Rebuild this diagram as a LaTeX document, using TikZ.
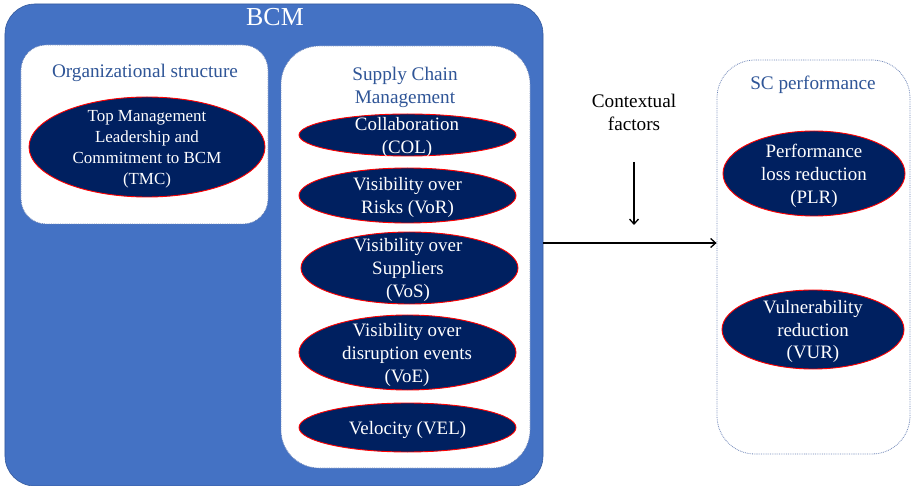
\documentclass[tikz,border=0pt]{standalone}
\usepackage{fontspec}
\setmainfont{Liberation Serif}
\usetikzlibrary{shapes.geometric,arrows.meta}
\definecolor{bcmblue}{HTML}{4472C4}
\definecolor{navy}{HTML}{002060}
\definecolor{titleblue}{HTML}{2F5597}
\definecolor{edgegray}{HTML}{6F86B8}
\tikzset{
  bcmbox/.style={draw=bcmblue!80!black, line width=0.6bp, fill=bcmblue, rounded corners=30bp, inner sep=0pt},
  groupbox/.style={draw=edgegray, densely dotted, line width=0.8bp, fill=white, inner sep=0pt},
  oval/.style={ellipse, draw=red, line width=0.9bp, fill=navy, inner sep=0pt},
  ovaltext/.style={text=white, align=center, font=\fontsize{19}{23}\selectfont, inner sep=0pt, yshift=-2bp},
  smalltext/.style={ovaltext, font=\fontsize{17}{21}\selectfont},
  title/.style={text=titleblue, align=center, font=\fontsize{19.3}{23}\selectfont, inner sep=0pt},
  plain/.style={text=black, align=center, font=\fontsize{19.3}{23}\selectfont, inner sep=0pt},
  flow/.style={line width=1.3bp, -{Straight Barb[length=5bp,width=9bp,line width=1.3bp]}}
}
\begin{document}
\begin{tikzpicture}[x=1bp,y=-1bp]
\useasboundingbox (0,0) rectangle (911,486);

% outer BCM block
\node[bcmbox, minimum width=538bp, minimum height=482bp] (bcm) at (274,245) {};
\node[text=white, font=\fontsize{26}{28}\selectfont, inner sep=0pt] (bcmlbl) at (275,17) {BCM};

% organizational structure group
\node[groupbox, rounded corners=25bp, minimum width=247bp, minimum height=179bp] (org) at (144.5,134.5) {};
\node[title] (orgt) at (145,73) {Organizational structure};
\node[oval, minimum width=236bp, minimum height=100bp] (tmc) at (147,147) {};
\node[smalltext] (tmct) at (tmc) {Top Management\\Leadership and\\Commitment to BCM\\(TMC)};

% supply chain management group
\node[groupbox, rounded corners=38bp, minimum width=249bp, minimum height=422bp] (scm) at (405.5,257) {};
\node[title] (scmt) at (405,87) {Supply Chain\\Management};

\node[oval, minimum width=217bp, minimum height=42bp] (col) at (407.5,135) {};
\node[ovaltext] (colt) at (407,135) {Collaboration\\(COL)};

\node[oval, minimum width=217bp, minimum height=55bp] (vor) at (407.5,195.5) {};
\node[ovaltext] (vort) at (vor) {Visibility over\\Risks (VoR)};

\node[oval, minimum width=217bp, minimum height=72bp] (vos) at (409.5,268) {};
\node[ovaltext] (vost) at (408,268) {Visibility over\\Suppliers\\(VoS)};

\node[oval, minimum width=217bp, minimum height=75bp] (voe) at (407.5,352.5) {};
\node[ovaltext] (voet) at (407,353) {Visibility over\\disruption events\\(VoE)};

\node[oval, minimum width=217bp, minimum height=49bp] (vel) at (407.5,427.5) {};
\node[ovaltext] (velt) at (vel) {Velocity (VEL)};

% SC performance group
\node[groupbox, rounded corners=38bp, minimum width=193bp, minimum height=394bp] (scp) at (813.5,257) {};
\node[title] (scpt) at (813,85) {SC performance};

\node[oval, minimum width=182bp, minimum height=85bp] (plr) at (814,173.5) {};
\node[ovaltext] (plrt) at (plr) {Performance\\loss reduction\\(PLR)};

\node[oval, minimum width=182bp, minimum height=79bp] (vur) at (813,329.5) {};
\node[ovaltext] (vurt) at (vur) {Vulnerability\\reduction\\(VUR)};

% contextual factors
\node[plain] (ctx) at (634,112) {Contextual\\factors};
\coordinate (ctxtop) at (634,162);
\coordinate (ctxtip) at (634,225);
\draw[flow] (ctxtop) -- (ctxtip);

% main relation
\draw[flow] (bcm.east |- 0,243) -- (scp.west |- 0,243);
\end{tikzpicture}
\end{document}
